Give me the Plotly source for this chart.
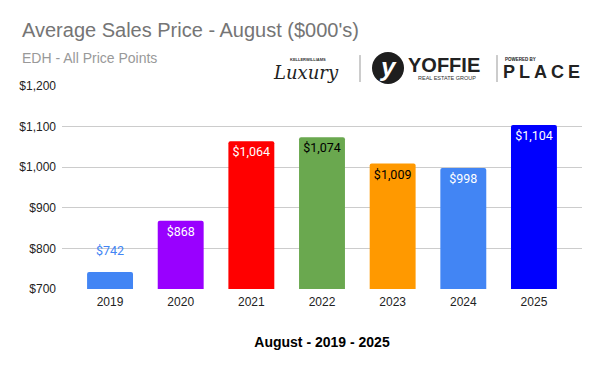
import plotly.graph_objects as go

years = ["2019", "2020", "2021", "2022", "2023", "2024", "2025"]
prices = [742, 868, 1064, 1074, 1009, 998, 1104]
bar_colors = ["#4285F4", "#9900FF", "#FF0000", "#6AA84F", "#FF9900", "#4285F4", "#0000FF"]
label_colors = ["#4285F4", "#FFFFFF", "#FFFFFF", "#000000", "#000000", "#FFFFFF", "#FFFFFF"]
outside_label = [True, False, False, False, False, False, False]
y_ticks = [700, 800, 900, 1000, 1100, 1200]
y_tick_text = ["$700", "$800", "$900", "$1,000", "$1,100", "$1,200"]

W, H = 600, 371
L, R, T, B = 62, 18, 86, 81.5
PW, PH = W - L - R, H - T - B


def px(x):
    return (x - L) / PW


def py(y):
    return (H - B - y) / PH


labels = [f"${v:,}" for v in prices]
texts = ["" if o else t for t, o in zip(labels, outside_label)]

fig = go.Figure()
fig.add_trace(go.Bar(
    x=years, y=prices,
    marker=dict(color=bar_colors, line=dict(width=0)),
    width=0.65,
    text=texts,
    textposition="inside",
    insidetextanchor="end",
    textangle=0,
    textfont=dict(family="Roboto", size=12.5, color=label_colors),
    hoverinfo="skip",
))

annotations = []
for i, (v, lab, o, c) in enumerate(zip(prices, labels, outside_label, label_colors)):
    if o:
        annotations.append(dict(x=i, y=v, xref="x", yref="y", text=lab, showarrow=False,
                                yanchor="bottom", yshift=12,
                                font=dict(family="Roboto", size=12.5, color=c)))

F = "Liberation Sans, Arial, sans-serif"
annotations += [
    dict(x=px(20), y=py(30), xref="paper", yref="paper", text="Average Sales Price - August ($000's)",
         showarrow=False, xanchor="left", yanchor="middle", font=dict(family=F, size=20, color="#757575")),
    dict(x=px(20), y=py(58), xref="paper", yref="paper", text="EDH - All Price Points",
         showarrow=False, xanchor="left", yanchor="middle", font=dict(family=F, size=14, color="#999999")),
    # logo
    dict(x=px(308), y=py(59), xref="paper", yref="paper", text="<b>KELLERWILLIAMS</b>",
         showarrow=False, xanchor="center", yanchor="middle", font=dict(family=F, size=4, color="#333333")),
    dict(x=px(306), y=py(72), xref="paper", yref="paper", text="<i>Luxury</i>",
         showarrow=False, xanchor="center", yanchor="middle", font=dict(family="DejaVu Serif", size=18, color="#222222")),
    dict(x=px(406), y=py(65), xref="paper", yref="paper", text="<b>YOFFIE</b>",
         showarrow=False, xanchor="left", yanchor="middle", font=dict(family=F, size=20, color="#222222")),
    dict(x=px(388), y=py(67), xref="paper", yref="paper", text="<b><i>y</i></b>",
         showarrow=False, xanchor="center", yanchor="middle", font=dict(family=F, size=26, color="#FFFFFF")),
    dict(x=px(447), y=py(78), xref="paper", yref="paper", text="REAL ESTATE GROUP",
         showarrow=False, xanchor="center", yanchor="middle", font=dict(family=F, size=5.5, color="#333333")),
    dict(x=px(503), y=py(59), xref="paper", yref="paper", text="<b>POWERED BY</b>",
         showarrow=False, xanchor="left", yanchor="middle", font=dict(family=F, size=4.5, color="#222222")),
    dict(x=px(543), y=py(72), xref="paper", yref="paper",
         text="<b><span style='letter-spacing:4px'>PLACE</span></b>",
         showarrow=False, xanchor="center", yanchor="middle", font=dict(family=F, size=18, color="#222222")),
]

shapes = [
    dict(type="line", xref="paper", yref="paper", x0=px(360), x1=px(360), y0=py(55), y1=py(82),
         line=dict(color="#999999", width=1)),
    dict(type="line", xref="paper", yref="paper", x0=px(497), x1=px(497), y0=py(55), y1=py(82),
         line=dict(color="#999999", width=1)),
    dict(type="circle", xref="paper", yref="paper", x0=px(372), x1=px(404), y0=py(52), y1=py(84),
         fillcolor="#1e1e1e", line=dict(width=0)),
]

fig.update_layout(
    width=W, height=H,
    margin=dict(l=L, r=R, t=T, b=B, pad=0),
    paper_bgcolor="white", plot_bgcolor="white",
    showlegend=False,
    barcornerradius=2,
    annotations=annotations,
    shapes=shapes,
    xaxis=dict(
        type="category", range=[-0.68, 6.68],
        showgrid=False, showline=False, zeroline=False, ticks="",
        ticklabelstandoff=4,
        tickfont=dict(family=F, size=12, color="#222222"),
        title=dict(text="<b>August - 2019 - 2025</b>", standoff=29,
                   font=dict(family=F, size=14, color="#000000")),
    ),
    yaxis=dict(
        range=[700, 1200], tickvals=y_ticks, ticktext=y_tick_text,
        showgrid=True, gridcolor="#CCCCCC", gridwidth=1,
        zeroline=False, showline=False, ticks="",
        ticklabelstandoff=5,
        tickfont=dict(family=F, size=12, color="#222222"),
    ),
)

fig.write_html("out.html", config={"displayModeBar": False, "staticPlot": True},
               post_script="document.body.style.margin='0';document.body.style.overflow='hidden';")
